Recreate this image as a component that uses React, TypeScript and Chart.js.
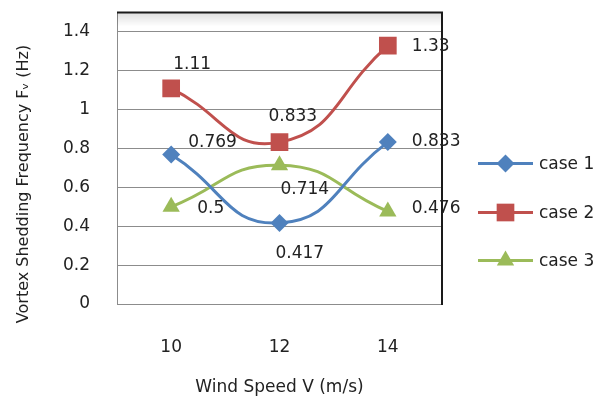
import React, { useEffect, useRef } from 'react';
import { Chart, registerables } from 'chart.js';

Chart.register(...registerables);

const categories = ['10', '12', '14'];
const case1 = [0.769, 0.417, 0.833];
const case2 = [1.11, 0.833, 1.33];
const case3 = [0.5, 0.714, 0.476];
const seriesNames = ['case 1', 'case 2', 'case 3'];
const yTicks = [0, 0.2, 0.4, 0.6, 0.8, 1, 1.2, 1.4];
const xTitle = 'Wind Speed V (m/s)';
const yTitle = 'Vortex Shedding Frequency F\u1D65 (Hz)';

const COLORS = ['#4F81BD', '#C0504D', '#9BBB59'];
const STYLES = ['rectRot', 'rect', 'triangle'];
const RADII = [9, 12.5, 10];
// label offsets (text left edge dx, text middle dy) relative to point
const LABEL_OFFSETS = [
  [[17, -12], [-4, 31], [24, -1]],
  [[2, -24], [-11, -26], [24, 1]],
  [[26, 2], [1, 24], [24, -3]],
];
const FONT = '"DejaVu Sans", sans-serif';

function drawMarker(ctx: CanvasRenderingContext2D, style: string, x: number, y: number, r: number, color: string) {
  ctx.save();
  ctx.fillStyle = color;
  ctx.beginPath();
  if (style === 'rectRot') {
    ctx.moveTo(x - r, y);
    ctx.lineTo(x, y - r);
    ctx.lineTo(x + r, y);
    ctx.lineTo(x, y + r);
  } else if (style === 'rect') {
    const s = Math.SQRT1_2 * r;
    ctx.rect(x - s, y - s, 2 * s, 2 * s);
  } else {
    let a = 0;
    ctx.moveTo(x + Math.sin(a) * r, y - Math.cos(a) * r);
    a += (2 * Math.PI) / 3;
    ctx.lineTo(x + Math.sin(a) * r, y - Math.cos(a) * r);
    a += (2 * Math.PI) / 3;
    ctx.lineTo(x + Math.sin(a) * r, y - Math.cos(a) * r);
  }
  ctx.closePath();
  ctx.fill();
  ctx.restore();
}

const decor = {
  id: 'decor',
  beforeDatasetsDraw(chart: any) {
    const { ctx, chartArea: a } = chart;
    ctx.save();
    const g = ctx.createLinearGradient(0, a.top, 0, a.top + 14);
    g.addColorStop(0, 'rgba(0,0,0,0.13)');
    g.addColorStop(1, 'rgba(0,0,0,0)');
    ctx.fillStyle = g;
    ctx.fillRect(a.left, a.top, a.right - a.left, 14);
    ctx.strokeStyle = '#1a1a1a';
    ctx.lineWidth = 2;
    ctx.beginPath();
    ctx.moveTo(a.left, a.top);
    ctx.lineTo(a.right, a.top);
    ctx.lineTo(a.right, a.bottom + 1);
    ctx.stroke();
    ctx.restore();
  },
  afterDatasetsDraw(chart: any) {
    const { ctx, chartArea: a } = chart;
    ctx.save();
    // data labels
    ctx.font = '17px ' + FONT;
    ctx.fillStyle = '#222';
    ctx.textAlign = 'left';
    ctx.textBaseline = 'middle';
    chart.data.datasets.forEach((ds: any, i: number) => {
      const meta = chart.getDatasetMeta(i);
      meta.data.forEach((pt: any, j: number) => {
        const [dx, dy] = LABEL_OFFSETS[i][j];
        ctx.fillText(String(ds.data[j]), pt.x + dx, pt.y + dy);
      });
    });
    // legend
    const lx0 = a.right + 36;
    const lx1 = a.right + 91;
    const rows = [a.top + 151, a.top + 200, a.top + 248];
    chart.data.datasets.forEach((ds: any, i: number) => {
      const y = rows[i];
      ctx.strokeStyle = COLORS[i];
      ctx.lineWidth = 3;
      ctx.beginPath();
      ctx.moveTo(lx0, y);
      ctx.lineTo(lx1, y);
      ctx.stroke();
      drawMarker(ctx, STYLES[i], (lx0 + lx1) / 2, y, RADII[i], COLORS[i]);
      ctx.fillStyle = '#222';
      ctx.font = '17px ' + FONT;
      ctx.textAlign = 'left';
      ctx.textBaseline = 'middle';
      ctx.fillText(ds.label, lx1 + 6, y + 1);
    });
    // y title
    ctx.translate(24, 184);
    ctx.rotate(-Math.PI / 2);
    ctx.font = '16px ' + FONT;
    ctx.textAlign = 'center';
    ctx.textBaseline = 'middle';
    ctx.fillStyle = '#222';
    ctx.fillText(yTitle, 0, 0);
    ctx.restore();
  },
};

export default function App() {
  const ref = useRef<HTMLCanvasElement | null>(null);
  useEffect(() => {
    if (!ref.current) return;
    const series = [case1, case2, case3];
    const chart = new Chart(ref.current, {
      type: 'line',
      data: {
        labels: categories,
        datasets: series.map((d, i) => ({
          label: seriesNames[i],
          data: d,
          borderColor: COLORS[i],
          backgroundColor: COLORS[i],
          borderWidth: 3,
          tension: 0.5,
          pointStyle: STYLES[i] as any,
          pointRadius: RADII[i],
          pointBorderWidth: 0,
          pointBackgroundColor: COLORS[i],
          pointBorderColor: COLORS[i],
          fill: false,
        })),
      },
      options: {
        animation: false,
        responsive: true,
        maintainAspectRatio: false,
        layout: { padding: { left: 0, top: 10, right: 172, bottom: 0 } },
        plugins: {
          legend: { display: false },
          tooltip: { enabled: false },
        },
        scales: {
          x: {
            offset: true,
            grid: { display: false, drawTicks: false },
            border: { display: true, color: '#8c8c8c', width: 1 },
            ticks: { padding: 33, color: '#222', font: { family: FONT, size: 17 } },
            title: {
              display: true,
              text: xTitle,
              color: '#222',
              font: { family: FONT, size: 17 },
              padding: { top: 0, bottom: 12 },
            },
            afterFit(scale: any) {
              scale.height = 106;
              scale.paddingLeft = 0;
              scale.paddingRight = 0;
            },
          },
          y: {
            min: 0,
            max: 1.5,
            afterBuildTicks(scale: any) {
              scale.ticks = yTicks.map((v) => ({ value: v }));
            },
            grid: { color: '#8c8c8c', lineWidth: 1, drawTicks: false },
            border: { display: true, color: '#8c8c8c', width: 1 },
            ticks: {
              padding: 27,
              color: '#222',
              font: { family: FONT, size: 17 },
              callback: (v: any) => String(Number(Number(v).toFixed(1))),
            },
            afterFit(scale: any) {
              scale.width = 117;
              scale.paddingTop = 0;
              scale.paddingBottom = 0;
            },
          },
        },
      },
      plugins: [decor],
    });
    return () => chart.destroy();
  }, []);
  return (
    <div style={{ position: 'fixed', left: 0, top: 0, width: 614, height: 410, background: '#fff' }}>
      <canvas ref={ref} />
    </div>
  );
}
